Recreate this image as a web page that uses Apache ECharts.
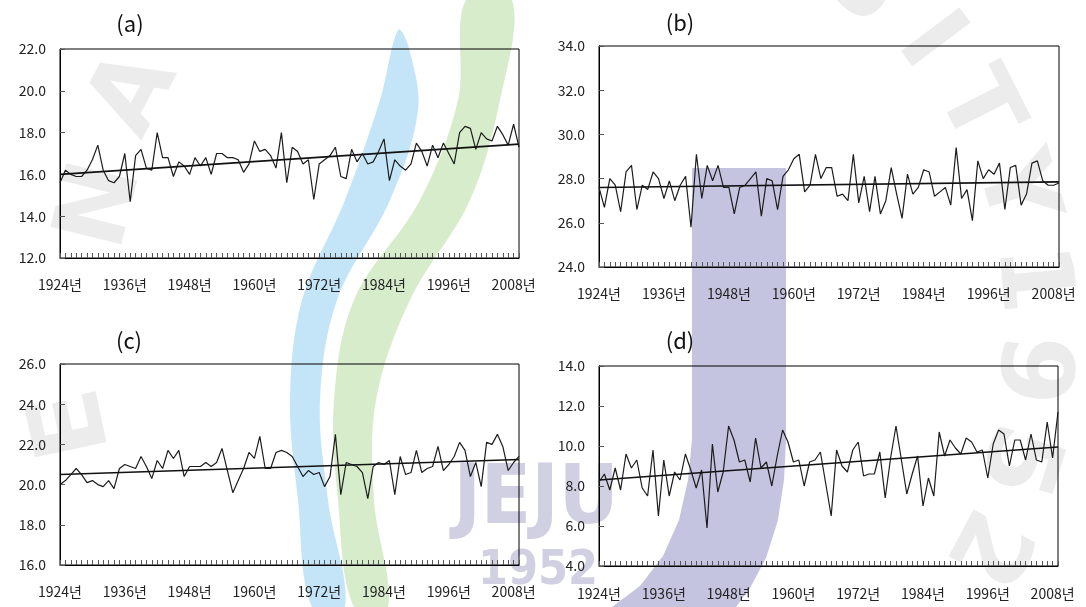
<!DOCTYPE html>
<html>
<head>
<meta charset="utf-8">
<script src="https://cdn.jsdelivr.net/npm/echarts/dist/echarts.min.js"></script>
<style>
html,body{margin:0;padding:0;background:#fff;}
#chart{width:1086px;height:607px;}
</style>
</head>
<body>
<div id="chart"></div>
<script>
// ---------- data ----------
const years = [];
for (let y = 1924; y <= 2009; y++) years.push(y + '년');

const seriesA = [15.6,16.2,16.0,15.9,15.9,16.2,16.7,17.4,
  16.2,15.7,15.6,15.9,17.0,14.7,16.9,17.2,
  16.3,16.2,18.0,16.8,16.8,15.9,16.6,16.4,
  16.0,16.8,16.4,16.8,16.0,17.0,17.0,16.8,
  16.8,16.7,16.1,16.5,17.6,17.1,17.2,16.9,
  16.3,18.0,15.6,
  17.3,17.1,16.5,16.7,14.8,16.5,16.7,16.9,
  17.3,15.9,15.8,17.2,16.6,17.0,16.5,16.6,
  17.1,17.7,15.7,16.7,16.4,16.2,16.5,17.5,
  17.1,16.4,17.4,16.8,17.5,17.0,16.5,18.0,
  18.3,18.2,17.2,18.0,17.7,17.6,18.3,17.9,17.4,18.4,17.3];

const seriesB = [27.6,26.7,28.0,27.7,26.5,28.3,28.6,26.6,27.7,27.5,
  28.3,28.0,27.1,27.9,27.0,27.7,28.1,25.8,29.1,27.1,
  28.6,27.9,28.6,27.6,27.6,26.4,27.6,27.7,28.0,28.3,
  26.3,28.0,27.9,26.6,28.1,28.4,28.9,29.1,27.4,27.7,
  29.1,28.0,28.5,28.5,27.2,27.3,27.0,29.1,26.9,28.1,
  26.5,28.1,26.4,27.0,28.5,27.3,26.2,28.2,27.3,27.6,
  28.4,28.3,27.2,27.4,27.6,26.8,29.4,27.1,27.5,26.1,
  28.8,28.0,28.4,28.2,28.7,26.6,28.5,28.6,26.8,27.3,
  28.7,28.8,27.9,27.7,27.7,27.8];

const seriesC = [20.0,20.2,20.5,20.8,20.5,20.1,20.2,20.0,19.9,20.2,
  19.8,20.8,21.0,20.9,20.8,21.4,20.9,20.3,21.2,20.8,
  21.7,21.3,21.7,20.4,20.9,20.9,20.9,21.1,20.9,21.1,
  21.8,20.7,19.6,20.2,20.8,21.6,21.3,22.4,20.8,20.8,
  21.6,21.7,21.6,21.4,20.9,20.4,20.7,20.5,20.6,19.9,
  20.4,22.5,19.5,21.1,21.0,20.9,20.6,19.3,20.9,21.1,
  21.0,21.2,19.5,21.4,20.5,20.6,21.7,20.6,20.8,20.9,
  21.9,20.7,21.0,21.4,22.1,21.7,20.4,21.1,19.9,22.1,
  22.0,22.5,21.9,20.7,21.1,21.4];

const seriesD = [8.2,8.6,7.8,8.9,7.8,9.6,8.9,9.3,7.9,7.5,
  9.8,6.5,9.3,7.5,8.7,8.3,9.6,8.8,7.9,8.8,
  5.9,10.1,7.7,8.7,11.0,10.3,9.2,9.3,8.2,10.4,
  8.9,9.2,8.0,9.5,10.8,10.2,9.2,9.3,8.0,9.2,
  9.3,9.7,8.1,6.5,9.8,9.0,8.7,9.8,10.2,8.5,
  8.6,8.6,9.7,7.4,9.4,11.0,9.3,7.6,8.6,9.5,
  7.0,8.4,7.5,10.7,9.5,10.3,9.9,9.6,10.4,10.2,
  9.7,9.8,8.4,10.1,10.8,10.6,9.0,10.3,10.3,9.3,
  10.6,9.3,9.2,11.2,9.4,11.7];

// linear trend lines: [value at first year, value at last year]
const trendA = [16.0, 17.45];
const trendB = [27.6, 27.85];
const trendC = [20.5, 21.25];
const trendD = [8.3, 9.95];

// y-axis ranges [min, max]
const rangeA = [12, 22];
const rangeB = [24, 34];
const rangeC = [16, 26];
const rangeD = [4, 14];
const yStep = 2;

const panelLabels = ['(a)', '(b)', '(c)', '(d)'];

// ---------- layout ----------
const layout = [
  {grid:{left:60, top:49, width:459, height:209}, title:[130,24], xMargin:20},
  {grid:{left:599, top:46, width:460, height:221}, title:[680,23], xMargin:20},
  {grid:{left:60, top:364, width:459, height:201}, title:[129,341], xMargin:20},
  {grid:{left:599, top:366, width:459, height:200}, title:[680,341], xMargin:21}
];
const panelData = [
  {values: seriesA, trend: trendA, range: rangeA},
  {values: seriesB, trend: trendB, range: rangeB},
  {values: seriesC, trend: trendC, range: rangeC},
  {values: seriesD, trend: trendD, range: rangeD}
];

const labelFont = '"Noto Sans CJK KR", "Noto Sans", sans-serif';

const grids = [], xAxes = [], yAxes = [], series = [];
panelData.forEach((p, i) => {
  const L = layout[i];
  grids.push(Object.assign({show:true, borderColor:'#000', borderWidth:1, backgroundColor:'transparent', containLabel:false}, L.grid));
  xAxes.push({
    gridIndex:i, type:'category', data:years, boundaryGap:false,
    axisLine:{show:true, lineStyle:{color:'#000', width:1}},
    axisTick:{show:true, inside:true, length:5, interval:0, lineStyle:{color:'#555', width:1}},
    axisLabel:{interval:11, margin:L.xMargin, fontSize:14, color:'#222', fontFamily:labelFont},
    splitLine:{show:false}
  });
  yAxes.push({
    gridIndex:i, type:'value', min:p.range[0], max:p.range[1], interval:yStep,
    axisLine:{show:true, lineStyle:{color:'#000', width:1}},
    axisTick:{show:true, inside:true, length:5, lineStyle:{color:'#555', width:1}},
    axisLabel:{margin:14, fontSize:14, color:'#222', fontFamily:labelFont, formatter:v => v.toFixed(1)},
    splitLine:{show:false}
  });
  series.push({
    type:'line', xAxisIndex:i, yAxisIndex:i, data:p.values, symbol:'none',
    lineStyle:{color:'#1c1c1c', width:1.2}, z:3
  });
  const tr = years.map(() => null);
  tr[0] = p.trend[0];
  tr[years.length - 1] = p.trend[1];
  series.push({
    type:'line', xAxisIndex:i, yAxisIndex:i, data:tr, symbol:'none', connectNulls:true,
    lineStyle:{color:'#111', width:1.6}, z:4
  });
});

// ---------- watermark (decorative background) ----------
const graphics = [];
const sealCenter = [560, 320];
const sealLetters = [['N',-166,470],['A',-152,480],['E',168,495],['S',-48,450],['I',-37,460],
  ['T',-27,465],['Y',-16,470],['1',-5,470],['9',6,470],['5',17,475],['2',28,480]];
sealLetters.forEach(([ch, ang, r]) => {
  const t = ang * Math.PI / 180;
  graphics.push({
    type:'text', z:-20,
    x: sealCenter[0] + r * Math.cos(t), y: sealCenter[1] + r * Math.sin(t),
    rotation: -(ang + 90) * Math.PI / 180,
    style:{text:ch, font:'bold 100px "DejaVu Sans"', fill:'#ececec', align:'center', verticalAlign:'middle'}
  });
});
graphics.push({
  type:'polygon', z:-15,
  shape:{smooth:0.35, points:[[398,30],[380,100],[345,200],[302,300],[290,400],[298,500],[312,607],
    [345,607],[328,500],[320,400],[337,300],[390,200],[418,110],[408,45]]},
  style:{fill:'#c4e5f7'}
});
graphics.push({
  type:'polygon', z:-15,
  shape:{smooth:0.35, points:[[466,0],[458,100],[420,200],[354,300],[334,400],[338,500],[354,607],
    [388,607],[374,500],[376,400],[410,300],[470,200],[500,100],[512,0]]},
  style:{fill:'#d7ecca'}
});
graphics.push({
  type:'polygon', z:-15,
  shape:{points:[[692,168],[786,168],[786,440],[784,480],[778,520],[766,558],[750,588],[736,607],
    [612,607],[640,586],[663,556],[679,520],[688,480],[692,440]]},
  style:{fill:'#c4c4e0'}
});
graphics.push({
  type:'text', z:-14, x:536, y:502,
  style:{text:'JEJU', font:'bold 82px "DejaVu Sans Condensed", "DejaVu Sans"', fill:'#d0d0e2', align:'center', verticalAlign:'middle'}
});
graphics.push({
  type:'text', z:-14, x:538, y:572,
  style:{text:'1952', font:'bold 48px "DejaVu Sans Condensed", "DejaVu Sans"', fill:'#d0d0e2', align:'center', verticalAlign:'middle'}
});

// panel titles
panelLabels.forEach((t, i) => {
  graphics.push({
    type:'text', z:100, x:layout[i].title[0], y:layout[i].title[1],
    style:{text:t, font:'22px "Noto Sans CJK KR", "Noto Sans", sans-serif', fill:'#111', align:'center', verticalAlign:'middle'}
  });
});

const chart = echarts.init(document.getElementById('chart'), null, {renderer:'canvas'});
chart.setOption({
  backgroundColor:'#ffffff',
  animation:false,
  grid:grids, xAxis:xAxes, yAxis:yAxes, series:series,
  graphic:{elements:graphics}
});
</script>
</body>
</html>
